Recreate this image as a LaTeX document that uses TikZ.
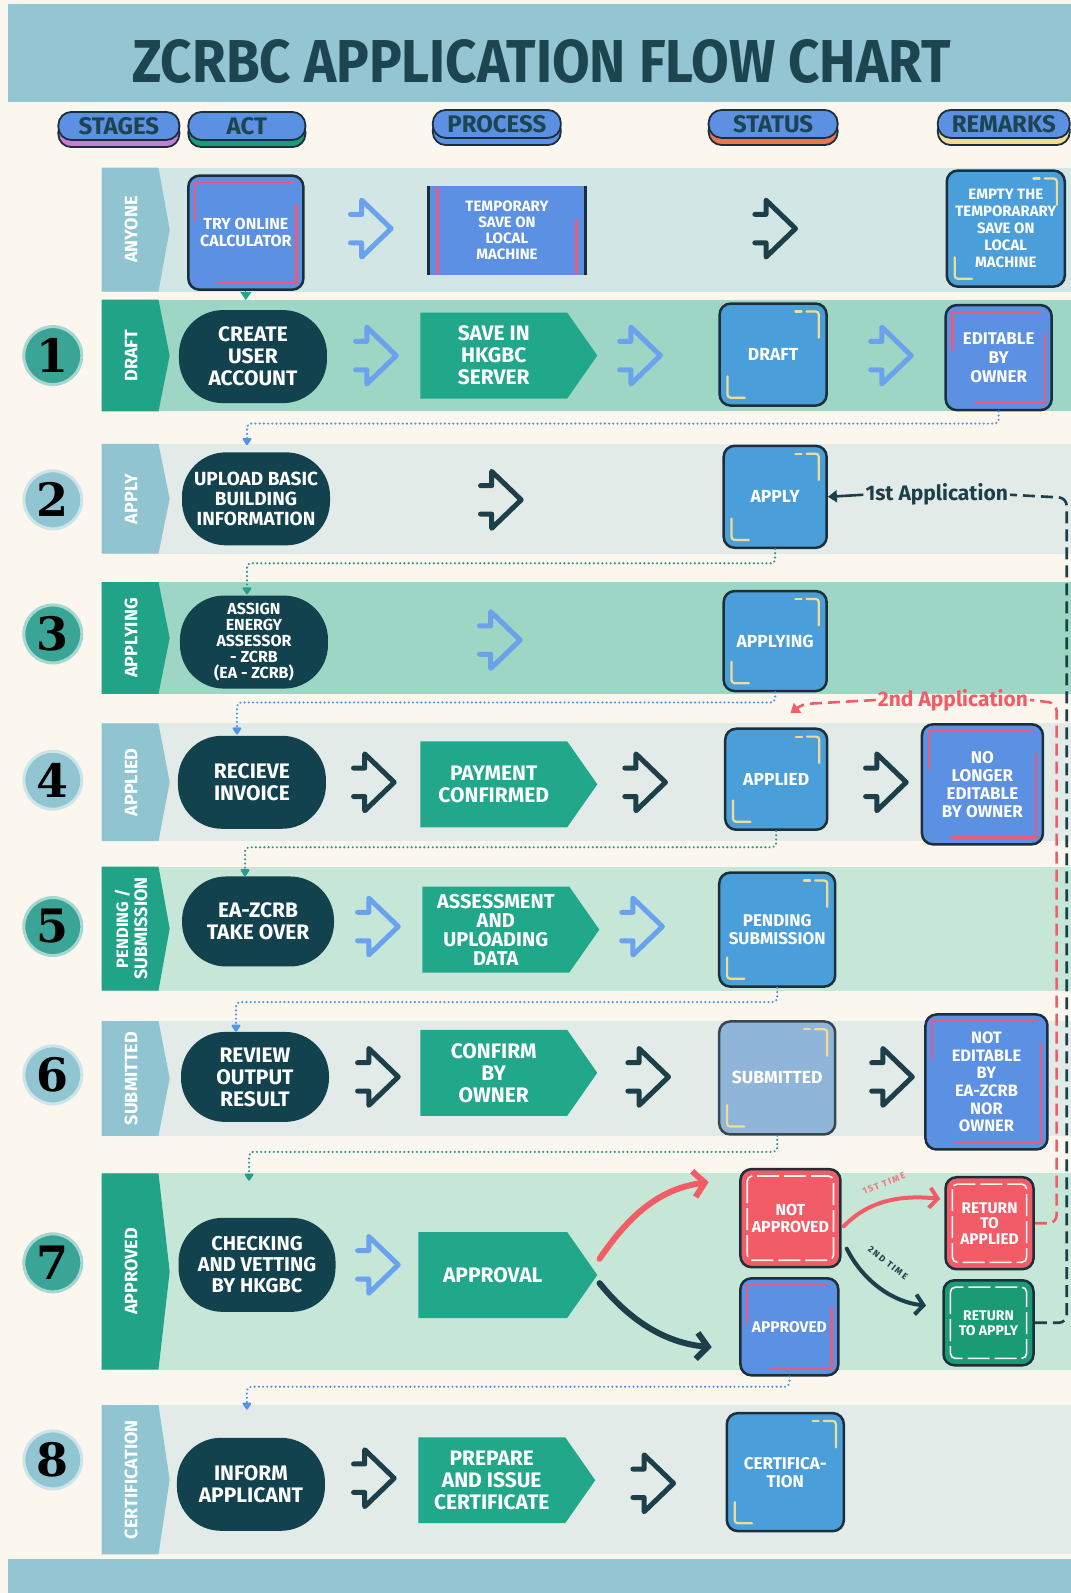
\documentclass[tikz,border=0pt]{standalone}
\usepackage{fontspec}
\usepackage{graphicx}
\setmainfont{Fira Sans}
\newfontfamily\numfont{DejaVu Serif}
\newfontfamily\spacedfont[LetterSpace=18]{Fira Sans}
\usetikzlibrary{arrows.meta,calc,shapes.symbols}
\definecolor{cream}{HTML}{FCF7EE}
\definecolor{hdrband}{HTML}{93C6D2}
\definecolor{titlec}{HTML}{1D4550}
\definecolor{pillblue}{HTML}{5B90E3}
\definecolor{outl}{HTML}{1B2E3A}
\definecolor{band0}{HTML}{D2E6E6}
\definecolor{grayb}{HTML}{E3EBE8}
\definecolor{mint}{HTML}{9DD6C4}
\definecolor{lmint}{HTML}{C6E6D8}
\definecolor{stripb}{HTML}{8FC4D0}
\definecolor{stripg}{HTML}{20A386}
\definecolor{actdark}{HTML}{13424F}
\definecolor{procg}{HTML}{21A78A}
\definecolor{statblue}{HTML}{4A9FDB}
\definecolor{remblue}{HTML}{5B90E3}
\definecolor{ybrc}{HTML}{F2DC93}
\definecolor{pbrc}{HTML}{E65C7E}
\definecolor{redc}{HTML}{F25C67}
\definecolor{greenret}{HTML}{1A9B74}
\definecolor{chevbc}{HTML}{6BA2EE}
\definecolor{chevdc}{HTML}{1D3F4A}
\definecolor{dotbc}{HTML}{4F96E8}
\definecolor{dottc}{HTML}{2A9A8A}
\definecolor{numteal}{HTML}{3AA597}
\definecolor{numblue}{HTML}{90C5D1}
\definecolor{subm}{HTML}{8FB5D9}
\definecolor{shpink}{HTML}{C47FD0}
\definecolor{shgreen}{HTML}{1E9A7A}
\definecolor{shorange}{HTML}{E8774E}
\newcommand\stagerow[6]{%
  \fill[#3] (100,#1) rectangle (1054,#2);
  \fill[#4] (100,#1) -- (156,#1) -- (167,{(#1+#2)/2}) -- (156,#2) -- (100,#2) -- cycle;
  \node[stagetxt] (#5) at (129,{(#1+#2)/2}) {#6};
}
\newcommand\ybr[1]{%
  \draw[brk,ybrc] ($(#1.north east)+(-32,9)$) -- ++(6,0);
  \draw[brk,ybrc,rounded corners=3pt] ($(#1.north east)+(-21,9)$) -- ++(12,0) -- ++(0,26);
  \draw[brk,ybrc,rounded corners=3pt] ($(#1.south west)+(9,-30)$) -- ++(0,21) -- ++(17,0);
}
\newcommand\pbr[1]{%
  \draw[brk,pbrc] ($(#1.north west)+(8,45)$) -- ++(0,-37) -- ($(#1.north east)+(-12,8)$);
  \draw[brk,pbrc] ($(#1.south west)+(30,-8)$) -- ($(#1.south east)+(-8,-8)$) -- ($(#1.north east)+(-8,30)$);
}
\newcommand\wdash[1]{%
  \draw[white!85!pink,line width=1.6pt,dash pattern=on 22pt off 5pt,rounded corners=5pt] ($(#1.north west)+(8,8)$) rectangle ($(#1.south east)+(-8,-8)$);
}
\tikzset{
  stagetxt/.style={rotate=90,text=white,align=center,font=\bfseries\fontsize{18}{19}\selectfont,inner sep=0pt},
  numc/.style={circle,minimum size=58pt,fill=#1,draw=#1!45!white,line width=3pt,inner sep=0pt,
    font=\numfont\bfseries\fontsize{46}{46}\selectfont,text=black},
  pill/.style={rounded corners=13pt,fill=pillblue,draw=outl,line width=1.8pt,minimum height=28pt,
    text=titlec,font=\bfseries\fontsize{24}{24}\selectfont,inner sep=0pt},
  pillsh/.style={rounded corners=13pt,draw=outl,line width=1.8pt,minimum height=28pt,inner sep=0pt},
  act/.style={rounded corners=44pt,fill=actdark,text=white,align=center,minimum width=148pt,
    minimum height=93pt,inner sep=1pt,font=\bfseries\fontsize{21}{22}\selectfont},
  proc/.style={shape=signal,signal to=east,signal pointer angle=110,fill=procg,text=white,align=center,
    minimum width=177pt,minimum height=86pt,inner sep=1pt,font=\bfseries\fontsize{21}{22}\selectfont},
  stat/.style={rounded corners=11pt,fill=statblue,draw=outl,line width=2.5pt,text=white,align=center,
    inner sep=1pt,font=\bfseries\fontsize{17.5}{18}\selectfont},
  rem/.style={stat,fill=remblue,font=\bfseries\fontsize{17}{19}\selectfont},
  brk/.style={line width=2.2pt,line cap=round},
  chevline/.style={line width=5pt,line cap=round,line join=round},
  chevb/.pic={\draw[chevbc,chevline] (-20,-14)--(-9,-14)--(-9,-28)--(20,0)--(-9,28)--(-9,14)--(-20,14);},
  chevd/.pic={\draw[chevdc,chevline] (-20,-14)--(-9,-14)--(-9,-28)--(20,0)--(-9,28)--(-9,14)--(-20,14);},
  dotb/.style={dotbc,line width=2.4pt,dash pattern=on 0.01pt off 4.2pt,line cap=round,rounded corners=4pt},
  dott/.style={dotb,dottc},
  dottip/.style={-{Triangle[width=10pt,length=8pt,round]}},
}
\begin{document}
\begin{tikzpicture}[x=1.016pt,y=-1.016pt]
\useasboundingbox (0,0) rectangle (1054,1568);
\fill[cream] (0,0) rectangle (1054,1568);
\fill[hdrband] (8,4) rectangle (1054,100);
\fill[hdrband] (8,1535) rectangle (1054,1568);
\node[text=titlec,inner sep=0pt] (title) at (533,61) {\resizebox{818pt}{43pt}{\bfseries ZCRBC APPLICATION FLOW CHART}};

% header pills
\node[pillsh,fill=shpink,minimum width=121pt] (hs1) at (117,131) {};
\node[pill,minimum width=121pt] (h1) at (117,124) {STAGES};
\node[pillsh,fill=shgreen,minimum width=117pt] (hs2) at (243,131) {};
\node[pill,minimum width=117pt] (h2) at (243,124) {ACT};
\node[pillsh,fill=pillblue,minimum width=128pt] (hs3) at (489,129) {};
\node[pill,minimum width=128pt] (h3) at (489,122) {PROCESS};
\node[pillsh,fill=shorange,minimum width=129pt] (hs4) at (761,129) {};
\node[pill,minimum width=129pt] (h4) at (761,122) {STATUS};
\node[pillsh,fill=ybrc,minimum width=132pt] (hs5) at (988,129) {};
\node[pill,minimum width=132pt] (h5) at (988,122) {REMARKS};

% rows
\stagerow{165}{287}{band0}{stripb}{st0}{ANYONE}
\stagerow{295}{405}{mint}{stripg}{st1}{DRAFT}
\stagerow{437}{545}{grayb}{stripb}{st2}{APPLY}
\stagerow{573}{683}{mint}{stripg}{st3}{APPLYING}
\stagerow{712}{828}{grayb}{stripb}{st4}{APPLIED}
\stagerow{853}{975}{lmint}{stripg}{st5}{\fontsize{16.5}{19}\selectfont PENDING /\\SUBMISSION}
\stagerow{1005}{1118}{grayb}{stripb}{st6}{SUBMITTED}
\stagerow{1155}{1348}{lmint}{stripg}{st7}{APPROVED}
\stagerow{1383}{1530}{grayb}{stripb}{st8}{CERTIFICATION}

% numbers
\node[numc=numteal] (n1) at (52,350) {1};
\node[numc=numblue] (n2) at (52,492) {2};
\node[numc=numteal] (n3) at (52,624) {3};
\node[numc=numblue] (n4) at (52,768) {4};
\node[numc=numteal] (n5) at (52,912) {5};
\node[numc=numblue] (n6) at (52,1058) {6};
\node[numc=numteal] (n7) at (52,1243) {7};
\node[numc=numblue] (n8) at (52,1437) {8};

% row 0
\node[rem,minimum width=115pt,minimum height=114pt,font=\bfseries\fontsize{16}{17}\selectfont] (a0) at (242,229) {TRY ONLINE\\CALCULATOR};
\pbr{a0}
\node[fill=pillblue,text=white,align=center,minimum width=157pt,minimum height=89pt,inner sep=1pt,
  font=\bfseries\fontsize{15}{16}\selectfont] (p0) at (499,227) {TEMPORARY\\SAVE ON\\LOCAL\\MACHINE};
\draw[outl,line width=3pt] (p0.north west) -- (p0.south west) (p0.north east) -- (p0.south east);
\draw[brk,pbrc] ($(p0.north west)+(9,2)$) -- ($(p0.south west)+(9,-2)$);
\draw[brk,pbrc] ($(p0.east)+(-9,-10)$) -- ($(p0.south east)+(-9,-2)$);
\node[rem,fill=statblue,minimum width=118pt,minimum height=116pt,font=\bfseries\fontsize{15}{17}\selectfont] (m0) at (990,225) {EMPTY THE\\TEMPORARARY\\SAVE ON\\LOCAL\\MACHINE};
\ybr{m0}
\pic at (365,225) {chevb};
\pic at (763,225) {chevd};
\draw[procg,line width=1pt,-{Triangle[width=11pt,length=8pt]}] (a0.south) -- ++(0,9);

% row 1
\node[act] (a1) at (249,351) {CREATE\\USER\\ACCOUNT};
\node[proc] (p1) at (486,350) {SAVE IN\\HKGBC\\SERVER};
\node[stat,minimum width=107pt,minimum height=102pt] (s1) at (761,349) {DRAFT};
\ybr{s1}
\node[rem,minimum width=106pt,minimum height=105pt] (m1) at (983,352) {EDITABLE\\BY\\OWNER};
\pbr{m1}
\pic at (370,350) {chevb};
\pic at (630,350) {chevb};
\pic at (877,350) {chevb};

% row 2
\node[act,font=\bfseries\fontsize{19}{20}\selectfont] (a2) at (252,491) {UPLOAD BASIC\\BUILDING\\INFORMATION};
\node[stat,minimum width=103pt,minimum height=102pt] (s2) at (763,489) {APPLY};
\ybr{s2}
\pic at (493,492) {chevd};

% row 3
\node[act,font=\bfseries\fontsize{16}{16}\selectfont] (a3) at (250,632) {ASSIGN\\ENERGY\\ASSESSOR\\- ZCRB\\(EA - ZCRB)};
\node[stat,minimum width=103pt,minimum height=100pt] (s3) at (763,631) {APPLYING};
\ybr{s3}
\pic at (492,630) {chevb};

% row 4
\node[act] (a4) at (248,770) {RECIEVE\\INVOICE};
\node[proc] (p4) at (486,772) {PAYMENT\\CONFIRMED};
\node[stat,minimum width=102pt,minimum height=101pt] (s4) at (764,767) {APPLIED};
\ybr{s4}
\node[rem,minimum width=121pt,minimum height=120pt,font=\bfseries\fontsize{17}{18}\selectfont] (m4) at (967,772) {NO\\LONGER\\EDITABLE\\BY OWNER};
\pbr{m4}
\pic at (368,770) {chevd};
\pic at (635,770) {chevd};
\pic at (872,770) {chevd};

% row 5
\node[act,minimum width=152pt,minimum height=90pt] (a5) at (254,907) {EA-ZCRB\\TAKE OVER};
\node[proc,font=\bfseries\fontsize{20}{19}\selectfont] (p5) at (488,915) {ASSESSMENT\\AND\\UPLOADING\\DATA};
\node[stat,minimum width=116pt,minimum height=114pt,font=\bfseries\fontsize{17}{18}\selectfont] (s5) at (765,915) {PENDING\\SUBMISSION};
\ybr{s5}
\pic at (372,912) {chevb};
\pic at (632,912) {chevb};

% row 6
\node[act,minimum height=90pt] (a6) at (251,1060) {REVIEW\\OUTPUT\\RESULT};
\node[proc] (p6) at (486,1056) {CONFIRM\\BY\\OWNER};
\node[stat,fill=subm,draw=outl!70!gray,minimum width=116pt,minimum height=113pt] (s6) at (765,1061) {SUBMITTED};
\ybr{s6}
\node[rem,minimum width=122pt,minimum height=135pt,font=\bfseries\fontsize{16.5}{17.6}\selectfont] (m6) at (971,1065) {NOT\\EDITABLE\\BY\\EA-ZCRB\\NOR\\OWNER};
\pbr{m6}
\pic at (372,1060) {chevd};
\pic at (638,1060) {chevd};
\pic at (878,1060) {chevd};

% row 7
\node[act,minimum width=157pt,minimum height=94pt,font=\bfseries\fontsize{20}{21}\selectfont] (a7) at (253,1245) {CHECKING\\AND VETTING\\BY HKGBC};
\node[proc,minimum width=179pt] (p7) at (485,1255) {APPROVAL};
\node[stat,fill=redc,minimum width=100pt,minimum height=98pt,font=\bfseries\fontsize{16}{17}\selectfont] (s7a) at (778,1199) {NOT\\APPROVED};
\wdash{s7a}
\node[stat,fill=remblue,minimum width=98pt,minimum height=97pt,font=\bfseries\fontsize{15.5}{17}\selectfont] (s7b) at (777,1306) {APPROVED};
\pbr{s7b}
\node[stat,fill=redc,minimum width=88pt,minimum height=92pt,font=\bfseries\fontsize{15.5}{15.5}\selectfont] (m7a) at (974,1204) {RETURN\\TO\\APPLIED};
\wdash{m7a}
\node[stat,fill=greenret,minimum width=90pt,minimum height=85pt,font=\bfseries\fontsize{14}{15}\selectfont] (m7b) at (973,1302) {RETURN\\TO APPLY};
\wdash{m7b}
\pic at (372,1245) {chevb};
\coordinate (ra) at ($(s7a.north west)+(-30,14)$);
\coordinate (da) at ($(s7b.west)+(-27,20)$);
\draw[redc,line width=6pt,line cap=round,-{Straight Barb[length=11pt,width=26pt]}]
  ($(p7.east)+(2,-16)$) .. controls (620,1195) and (650,1170) .. (ra);
\draw[chevdc,line width=6pt,line cap=round,-{Straight Barb[length=11pt,width=26pt]}]
  ($(p7.east)+(2,8)$) .. controls (620,1300) and (655,1322) .. (da);
\draw[redc,line width=4pt,line cap=round,-{Straight Barb[length=8pt,width=20pt]}]
  ($(s7a.east)+(2,8)$) .. controls (855,1182) and (885,1176) .. ($(m7a.west)+(-4,-24)$);
\draw[chevdc,line width=4pt,line cap=round,-{Straight Barb[length=8pt,width=20pt]}]
  ($(s7a.east)+(5,30)$) .. controls (850,1262) and (880,1282) .. ($(m7b.west)+(-16,-17)$);
\node[text=redc!85!white,rotate=22,font=\spacedfont\bfseries\fontsize{9}{9}\selectfont,inner sep=0pt] (l1) at (870,1165) {1ST TIME};
\node[text=chevdc,rotate=-38,font=\spacedfont\bfseries\fontsize{9}{9}\selectfont,inner sep=0pt] (l2) at (874,1243) {2ND TIME};

% row 8
\node[act] (a8) at (247,1461) {INFORM\\APPLICANT};
\node[proc] (p8) at (484,1457) {PREPARE\\AND ISSUE\\CERTIFICATE};
\node[stat,minimum width=117pt,minimum height=118pt,font=\bfseries\fontsize{17}{18}\selectfont] (s8) at (773,1449) {CERTIFICA-\\TION};
\ybr{s8}
\pic at (368,1455) {chevd};
\pic at (643,1460) {chevd};

% dotted connectors between rows
\draw[dotb,dottip] (m1.south) -- ++(0,12) -| ([xshift=-9pt,yshift=7pt]a2.north);
\draw[dott,dottip] (s2.south) -- ++(0,14) -| ([xshift=-7pt,yshift=1pt]a3.north);
\draw[dotb,dottip] (s3.south) -- ++(0,10) -| ([xshift=-15pt,yshift=1pt]a4.north);
\draw[dott,dottip] (s4.south) -- ++(0,16) -| ([xshift=-13pt,yshift=0pt]a5.north);
\draw[dotb,dottip] (s5.south) -- ++(0,14) -| ([xshift=-19pt,yshift=0pt]a6.north);
\draw[dott,dottip] (s6.south) -- ++(0,16) -| ([xshift=-8pt,yshift=37pt]a7.north);
\draw[dotb,dottip] (s7b.south) -- ++(0,10) -| ([xshift=-4pt,yshift=28pt]a8.north);

% 1st / 2nd application returns
\node[text=chevdc,font=\bfseries\fontsize{21}{21}\selectfont,inner sep=2pt] (t1) at (922,487) {1st Application};
\draw[chevdc,line width=2.6pt,dash pattern=on 12pt off 6pt,rounded corners=8pt] (m7b.east) -| (1050,490) -- (t1.east);
\draw[chevdc,line width=2.6pt,-{Triangle[width=12pt,length=9pt]}] (t1.west) -- (s2.east);
\node[text=redc,font=\bfseries\fontsize{21}{21}\selectfont,inner sep=2pt] (t2) at (938,689) {2nd Application};
\draw[redc,line width=2.6pt,dash pattern=on 12pt off 6pt,rounded corners=8pt] (m7a.east) -| (1040,692) -- (t2.east);
\coordinate (t2end) at (778,702);
\draw[redc,line width=2.6pt,dash pattern=on 12pt off 6pt,rounded corners=6pt,-{Triangle[width=12pt,length=9pt]}] (t2.west) -- (790,693) -- (t2end);
\end{tikzpicture}
\end{document}
